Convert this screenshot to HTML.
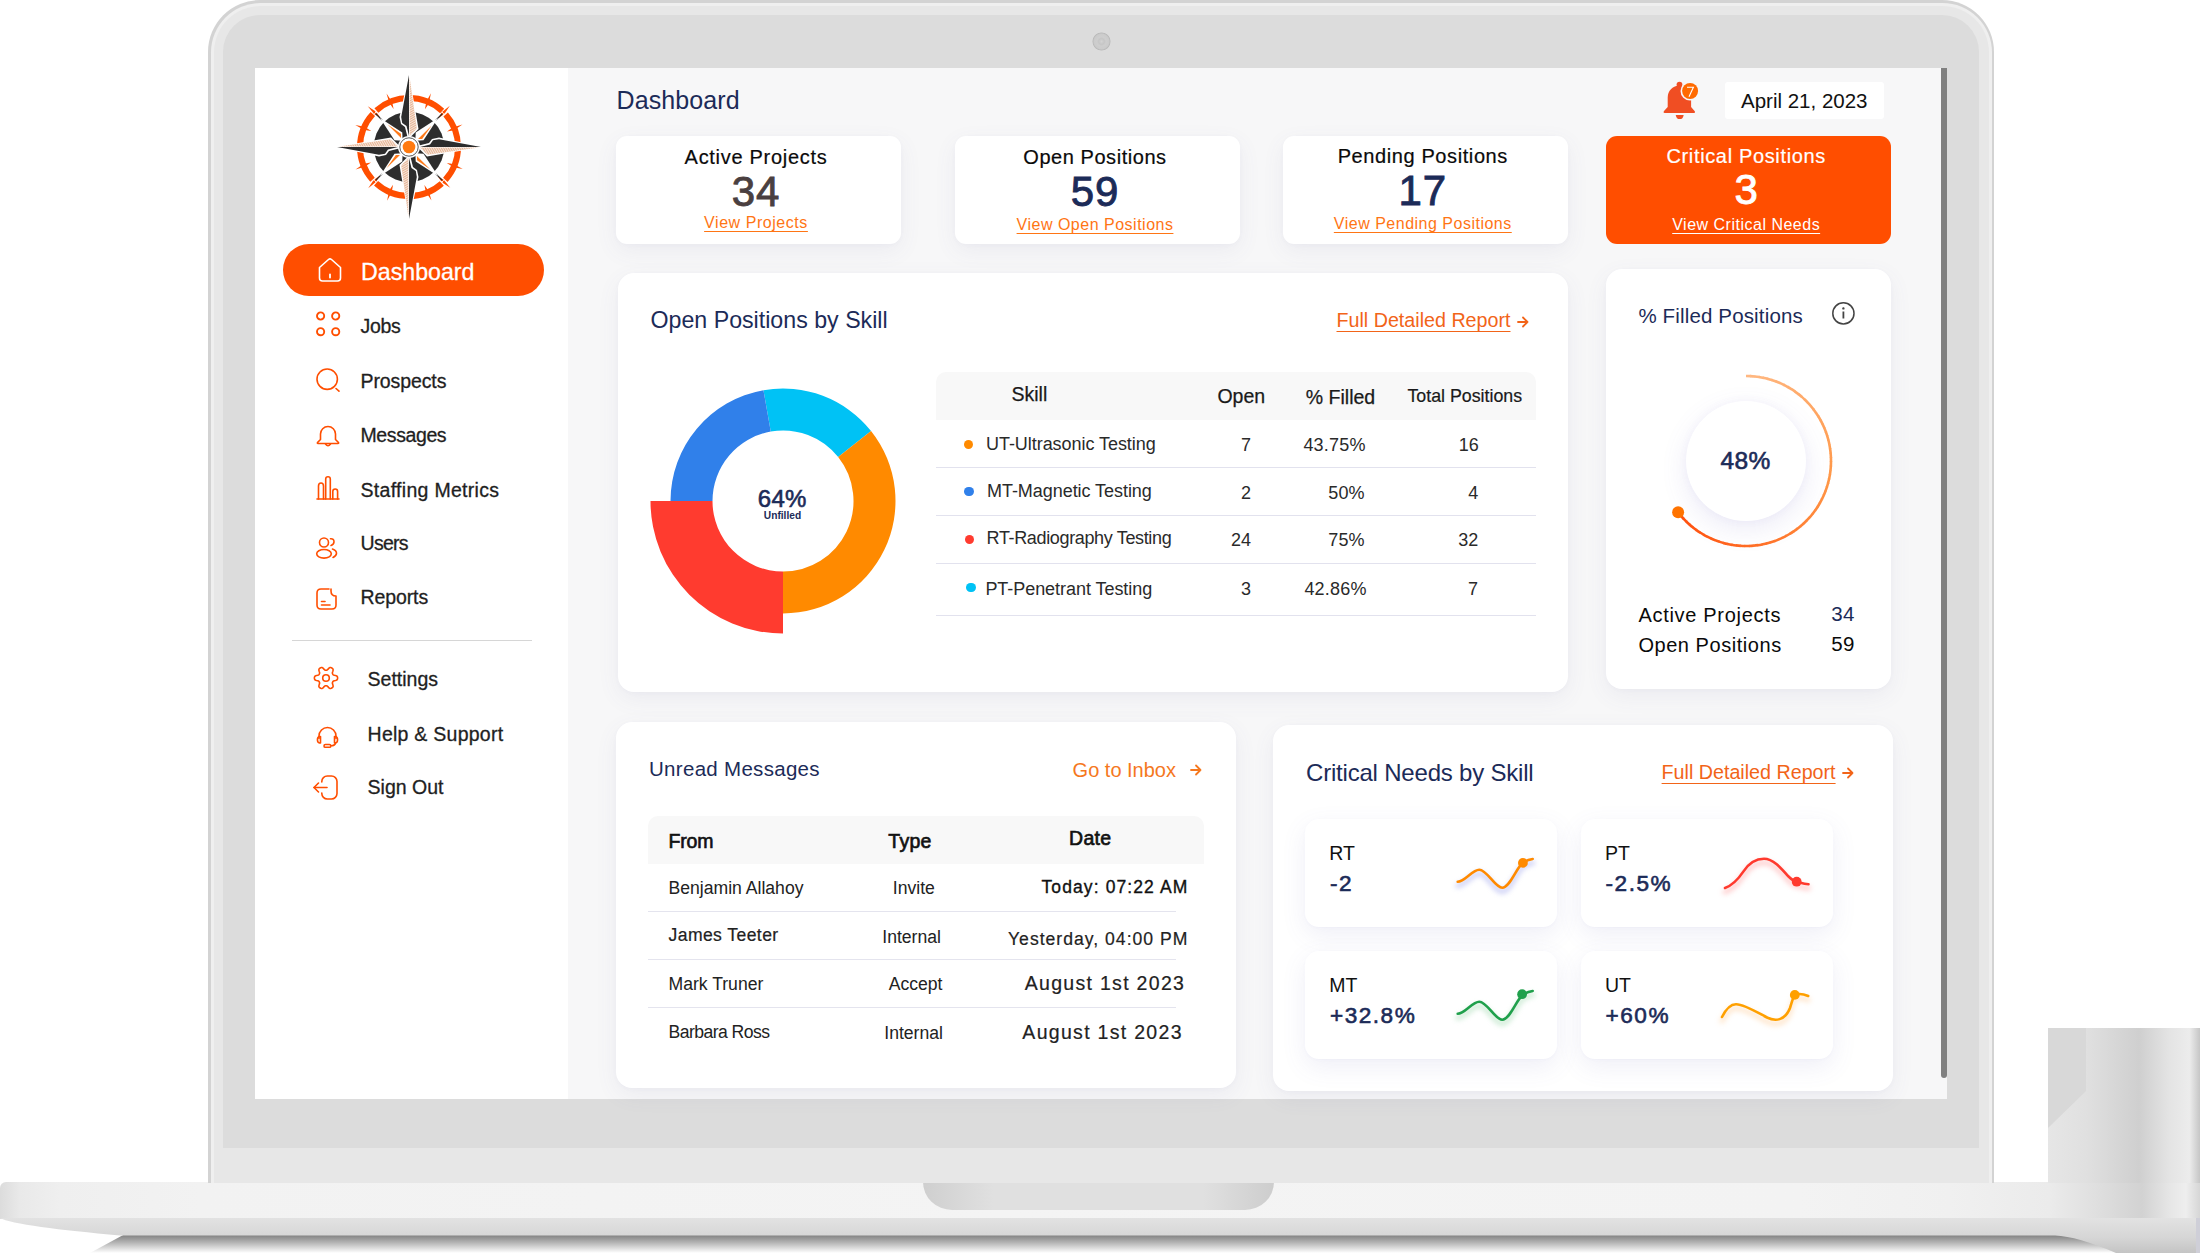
<!DOCTYPE html>
<html><head><meta charset="utf-8">
<style>
*{margin:0;padding:0;box-sizing:border-box}
html,body{width:2200px;height:1253px;overflow:hidden;background:#fff;font-family:"Liberation Sans",sans-serif}
.a{position:absolute}
.t{position:absolute;line-height:1;white-space:nowrap}
.u{text-decoration:underline;text-underline-offset:3px;text-decoration-thickness:1.5px}
svg{position:absolute;overflow:visible}
</style></head><body>

<div class="a" style="left:0px;top:1182px;width:2200px;height:37px;background:linear-gradient(90deg,#dcdcdc 0,#e9e9e9 20px,#efefef 60px,#f2f2f2 200px,#f4f4f4 1000px,#f3f3f3 1800px,#f0f0f0 1950px,#ebebeb 2050px,#dedede 2100px,#d2d2d2 2142px,#e6e6e6 2170px,#eeeeee 2186px,#d6d6d6 2200px);border-radius:6px 0 0 0"></div>
<svg style="left:0;top:1218px" width="2200" height="35" viewBox="0 0 2200 35"><defs><linearGradient id="lb" x1="0" y1="0" x2="0" y2="1"><stop offset="0" stop-color="#e2e2e2"/><stop offset="0.55" stop-color="#d6d6d6"/><stop offset="1" stop-color="#c4c4c4"/></linearGradient><linearGradient id="sh" x1="0" y1="0" x2="0" y2="1"><stop offset="0" stop-color="#7a7a7a"/><stop offset="0.45" stop-color="#b4b4b4"/><stop offset="1" stop-color="#ffffff"/></linearGradient></defs><path d="M125,16 L2075,16 L2135,35 L90,35 Z" fill="url(#sh)"/><path d="M0,0 L2196,0 L2196,35 L2116,35 C2090,24 2070,18 2055,17.5 L120,17.5 C60,12 10,6 0,0 Z" fill="url(#lb)"/><rect x="2196" y="0" width="4" height="35" fill="#cfcfd8"/></svg>
<svg style="left:923px;top:1182px" width="351" height="28" viewBox="0 0 351 28"><defs><linearGradient id="nt" x1="0" y1="0" x2="1" y2="0"><stop offset="0" stop-color="#cfcfcf"/><stop offset="0.2" stop-color="#e0e0e0"/><stop offset="0.8" stop-color="#e0e0e0"/><stop offset="1" stop-color="#cdcdcd"/></linearGradient></defs><path d="M0,0 L351,0 A29,28 0 0 1 322,28 L29,28 A29,28 0 0 1 0,0 Z" fill="url(#nt)"/></svg>
<svg style="left:2048px;top:1028px" width="152" height="155" viewBox="0 0 152 155"><defs><linearGradient id="rb" x1="0" y1="0" x2="1" y2="0"><stop offset="0" stop-color="#e6e6e6"/><stop offset="0.25" stop-color="#e0e0e0"/><stop offset="0.6" stop-color="#cfcfcf"/><stop offset="0.8" stop-color="#e4e4e4"/><stop offset="0.93" stop-color="#ececec"/><stop offset="1" stop-color="#c6c6c6"/></linearGradient></defs><rect x="0" y="0" width="152" height="155" fill="url(#rb)"/><path d="M0,0 L38,0 L38,63 L0,100 Z" fill="#d8d8d8"/></svg>
<div class="a" style="left:208px;top:0px;width:1786px;height:1183px;border-radius:52px 52px 0 0;background:#d3d3d3"></div>
<div class="a" style="left:210.5px;top:2.5px;width:1781px;height:1180.5px;border-radius:49.5px 49.5px 0 0;background:#efefef"></div>
<div class="a" style="left:213.5px;top:5.5px;width:1775px;height:1177.5px;border-radius:46.5px 46.5px 0 0;background:#e7e7e7"></div>
<div class="a" style="left:223px;top:15px;width:1756px;height:1133px;border-radius:37px 37px 0 0;background:#dcdcdc"></div>
<div class="a" style="left:1091.5px;top:31.5px;width:19px;height:19px;border-radius:50%;background:radial-gradient(circle closest-side,#d3d3d3 0,#c6c6c6 30%,#cecece 48%,#cbcbcb 78%,#bbbbbb 90%,#dcdcdc 100%)"></div>
<div class="a" style="left:255px;top:68px;width:1692px;height:1031px;background:#f7f7f8"></div>
<div class="a" style="left:255px;top:68px;width:313px;height:1031px;background:#fff"></div>
<svg style="left:329.4px;top:67.3px" width="160" height="160" viewBox="-80 -80 160 160"><defs><pattern id="hat" width="2" height="2" patternUnits="userSpaceOnUse" patternTransform="rotate(60)"><rect width="2" height="2" fill="#f7e6da"/><rect width="0.9" height="2" fill="#e3ad8c"/></pattern></defs><circle r="49" fill="none" stroke="#ff4e00" stroke-width="6" stroke-dasharray="71.97 5" stroke-dashoffset="35.98"/><path d="M-1.5,-47 L-0.3,-58 L1.5,-49 Z M-1.5,-49 L0.3,-41 L1.5,-47 Z" fill="#ff4e00" transform="rotate(22.5)"/><path d="M-1.5,-47 L-0.3,-58 L1.5,-49 Z M-1.5,-49 L0.3,-41 L1.5,-47 Z" fill="#ff4e00" transform="rotate(45.0)"/><path d="M-1.5,-47 L-0.3,-58 L1.5,-49 Z M-1.5,-49 L0.3,-41 L1.5,-47 Z" fill="#ff4e00" transform="rotate(67.5)"/><path d="M-1.5,-47 L-0.3,-58 L1.5,-49 Z M-1.5,-49 L0.3,-41 L1.5,-47 Z" fill="#ff4e00" transform="rotate(112.5)"/><path d="M-1.5,-47 L-0.3,-58 L1.5,-49 Z M-1.5,-49 L0.3,-41 L1.5,-47 Z" fill="#ff4e00" transform="rotate(135.0)"/><path d="M-1.5,-47 L-0.3,-58 L1.5,-49 Z M-1.5,-49 L0.3,-41 L1.5,-47 Z" fill="#ff4e00" transform="rotate(157.5)"/><path d="M-1.5,-47 L-0.3,-58 L1.5,-49 Z M-1.5,-49 L0.3,-41 L1.5,-47 Z" fill="#ff4e00" transform="rotate(202.5)"/><path d="M-1.5,-47 L-0.3,-58 L1.5,-49 Z M-1.5,-49 L0.3,-41 L1.5,-47 Z" fill="#ff4e00" transform="rotate(225.0)"/><path d="M-1.5,-47 L-0.3,-58 L1.5,-49 Z M-1.5,-49 L0.3,-41 L1.5,-47 Z" fill="#ff4e00" transform="rotate(247.5)"/><path d="M-1.5,-47 L-0.3,-58 L1.5,-49 Z M-1.5,-49 L0.3,-41 L1.5,-47 Z" fill="#ff4e00" transform="rotate(292.5)"/><path d="M-1.5,-47 L-0.3,-58 L1.5,-49 Z M-1.5,-49 L0.3,-41 L1.5,-47 Z" fill="#ff4e00" transform="rotate(315.0)"/><path d="M-1.5,-47 L-0.3,-58 L1.5,-49 Z M-1.5,-49 L0.3,-41 L1.5,-47 Z" fill="#ff4e00" transform="rotate(337.5)"/><circle r="35.2" fill="#2d2d2d"/><g transform="rotate(45)"><path d="M0,-47 L0,-38" stroke="#2d2d2d" stroke-width="1.2"/><path d="M0,-41 L-5.5,-15 L0,-9 L5.5,-15 Z" fill="#fff"/><path d="M0.8,-31 L3.6,-15 L0.8,-12 Z" fill="#ff7a1a"/></g><g transform="rotate(135)"><path d="M0,-47 L0,-38" stroke="#2d2d2d" stroke-width="1.2"/><path d="M0,-41 L-5.5,-15 L0,-9 L5.5,-15 Z" fill="#fff"/><path d="M0.8,-31 L3.6,-15 L0.8,-12 Z" fill="#ff7a1a"/></g><g transform="rotate(225)"><path d="M0,-47 L0,-38" stroke="#2d2d2d" stroke-width="1.2"/><path d="M0,-41 L-5.5,-15 L0,-9 L5.5,-15 Z" fill="#fff"/><path d="M0.8,-31 L3.6,-15 L0.8,-12 Z" fill="#ff7a1a"/></g><g transform="rotate(315)"><path d="M0,-47 L0,-38" stroke="#2d2d2d" stroke-width="1.2"/><path d="M0,-41 L-5.5,-15 L0,-9 L5.5,-15 Z" fill="#fff"/><path d="M0.8,-31 L3.6,-15 L0.8,-12 Z" fill="#ff7a1a"/></g><g transform="rotate(0)"><path d="M0,-74 L-9.5,-30 L-8,-23 L-4,-20 L-1.5,-10 L1.5,-10 L9.5,-18 Z" fill="#fff"/><path d="M0,-72 L-7.8,-30 L-6.8,-24 L-2.5,-21 L0,-11 Z" fill="#2d2d2d"/><path d="M0.6,-70 L7.8,-18.5 L0.6,-11 Z" fill="url(#hat)"/></g><g transform="rotate(90)"><path d="M0,-74 L-9.5,-30 L-8,-23 L-4,-20 L-1.5,-10 L1.5,-10 L9.5,-18 Z" fill="#fff"/><path d="M0,-72 L-7.8,-30 L-6.8,-24 L-2.5,-21 L0,-11 Z" fill="#2d2d2d"/><path d="M0.6,-70 L7.8,-18.5 L0.6,-11 Z" fill="url(#hat)"/></g><g transform="rotate(180)"><path d="M0,-74 L-9.5,-30 L-8,-23 L-4,-20 L-1.5,-10 L1.5,-10 L9.5,-18 Z" fill="#fff"/><path d="M0,-72 L-7.8,-30 L-6.8,-24 L-2.5,-21 L0,-11 Z" fill="#2d2d2d"/><path d="M0.6,-70 L7.8,-18.5 L0.6,-11 Z" fill="url(#hat)"/></g><g transform="rotate(270)"><path d="M0,-74 L-9.5,-30 L-8,-23 L-4,-20 L-1.5,-10 L1.5,-10 L9.5,-18 Z" fill="#fff"/><path d="M0,-72 L-7.8,-30 L-6.8,-24 L-2.5,-21 L0,-11 Z" fill="#2d2d2d"/><path d="M0.6,-70 L7.8,-18.5 L0.6,-11 Z" fill="url(#hat)"/></g><circle r="11" fill="#fff"/><circle r="9.2" fill="none" stroke="#2d2d2d" stroke-width="0.8"/><circle r="6.3" fill="#ff7a10"/></svg>
<div class="a" style="left:283px;top:244px;width:261px;height:52px;border-radius:26px;background:#ff4e00"></div>
<svg style="left:318px;top:258px" width="24" height="24" viewBox="0 0 24 24" fill="none" stroke="#fff" stroke-width="1.6" stroke-linejoin="round" stroke-linecap="round"><path d="M1.5,9.5 L10.5,1.5 Q12,0.3 13.5,1.5 L22.5,9.5 V20 Q22.5,23 19.5,23 H4.5 Q1.5,23 1.5,20 Z"/><path d="M12,16.5 V19.5" stroke-width="1.8"/></svg>
<div class="t" style="left:361.0px;top:260.6px;font-size:23.2px;color:#fff;font-weight:400;-webkit-text-stroke:0.3px #fff;">Dashboard</div>
<div class="t" style="left:360.5px;top:317.1px;font-size:19.5px;color:#1f1f1f;font-weight:400;letter-spacing:-0.3px;-webkit-text-stroke:0.3px #1f1f1f;">Jobs</div>
<div class="t" style="left:360.5px;top:371.9px;font-size:19.5px;color:#1f1f1f;font-weight:400;letter-spacing:-0.1px;-webkit-text-stroke:0.3px #1f1f1f;">Prospects</div>
<div class="t" style="left:360.5px;top:426.2px;font-size:19.5px;color:#1f1f1f;font-weight:400;letter-spacing:-0.4px;-webkit-text-stroke:0.3px #1f1f1f;">Messages</div>
<div class="t" style="left:360.5px;top:480.7px;font-size:19.5px;color:#1f1f1f;font-weight:400;letter-spacing:0.3px;-webkit-text-stroke:0.3px #1f1f1f;">Staffing Metrics</div>
<div class="t" style="left:360.5px;top:533.9px;font-size:19.5px;color:#1f1f1f;font-weight:400;letter-spacing:-0.7px;-webkit-text-stroke:0.3px #1f1f1f;">Users</div>
<div class="t" style="left:360.5px;top:587.8px;font-size:19.5px;color:#1f1f1f;font-weight:400;letter-spacing:-0.1px;-webkit-text-stroke:0.3px #1f1f1f;">Reports</div>
<svg style="left:316px;top:312px" width="24" height="24" viewBox="0 0 24 24" fill="none" stroke="#ff4e00" stroke-width="1.6" stroke-linecap="round" stroke-linejoin="round"><circle cx="4.6" cy="4" r="3.6" stroke-width="1.9"/><circle cx="19.7" cy="4" r="3.6" stroke-width="1.9"/><circle cx="4.6" cy="19.7" r="3.6" stroke-width="1.9"/><circle cx="19.7" cy="19.7" r="3.6" stroke-width="1.9"/></svg>
<svg style="left:316px;top:368px" width="24" height="24" viewBox="0 0 24 24" fill="none" stroke="#ff4e00" stroke-width="1.6" stroke-linecap="round" stroke-linejoin="round"><circle cx="11.2" cy="11.2" r="10.2"/><path d="M20,20.5 L23,23.2"/></svg>
<svg style="left:316px;top:423px" width="24" height="24" viewBox="0 0 24 24" fill="none" stroke="#ff4e00" stroke-width="1.6" stroke-linecap="round" stroke-linejoin="round"><path d="M4.5,16.5 V11 A7.5,7.5 0 0 1 19.5,11 V16.5 L22.5,19.5 Q23,20.5 22,20.5 H2 Q1,20.5 1.5,19.5 Z"/><path d="M9.5,21 Q12,24.5 14.5,21"/></svg>
<svg style="left:316px;top:476px" width="24" height="24" viewBox="0 0 24 24" fill="none" stroke="#ff4e00" stroke-width="1.6" stroke-linecap="round" stroke-linejoin="round"><path d="M1,23 H23"/><path d="M2.5,23 V10 Q2.5,7 5,7 Q7.5,7 7.5,10 V23"/><path d="M9.7,23 V3 Q9.7,0.8 12,0.8 Q14.3,0.8 14.3,3 V23"/><path d="M16.8,23 V15.5 Q16.8,13 19.2,13 Q21.6,13 21.6,15.5 V23"/></svg>
<svg style="left:316px;top:537px" width="24" height="24" viewBox="0 0 24 24" fill="none" stroke="#ff4e00" stroke-width="1.6" stroke-linecap="round" stroke-linejoin="round"><circle cx="8" cy="5.5" r="4.5"/><ellipse cx="8" cy="16.8" rx="7.3" ry="4.3"/><path d="M14.5,1.8 Q18,1.5 18,4.8 Q18,7.5 15,8.5"/><path d="M16.5,12 Q20.5,13.5 20.5,16.3 Q20.5,18.8 17,20.5"/></svg>
<svg style="left:316px;top:588px" width="24" height="24" viewBox="0 0 24 24" fill="none" stroke="#ff4e00" stroke-width="1.6" stroke-linecap="round" stroke-linejoin="round"><path d="M13,1 H5 Q1,1 1,5 V17 Q1,21 5,21 H16 Q20,21 20,17 V8 Q15,8 15,3 V1"/><path d="M5.5,13.5 H9"/><path d="M5.5,17 H14"/></svg>
<div class="a" style="left:292px;top:640px;width:240px;height:1.2px;background:#d6d6d6"></div>
<div class="t" style="left:367.6px;top:669.9px;font-size:19.5px;color:#1f1f1f;font-weight:400;-webkit-text-stroke:0.3px #1f1f1f;">Settings</div>
<div class="t" style="left:367.6px;top:725.2px;font-size:19.5px;color:#1f1f1f;font-weight:400;letter-spacing:0.25px;-webkit-text-stroke:0.3px #1f1f1f;">Help &amp; Support</div>
<div class="t" style="left:367.6px;top:778.0px;font-size:19.5px;color:#1f1f1f;font-weight:400;-webkit-text-stroke:0.3px #1f1f1f;">Sign Out</div>
<svg style="left:314px;top:666px" width="24" height="24" viewBox="0 0 24 24" fill="none" stroke="#ff4e00" stroke-width="1.6" stroke-linecap="round" stroke-linejoin="round"><path d="M12.00,4.20 L12.41,4.18 L12.83,4.12 L13.28,3.92 L13.82,3.43 L14.51,2.63 L15.29,1.88 L16.02,1.53 L16.67,1.52 L17.25,1.69 L17.80,1.95 L18.30,2.29 L18.74,2.72 L19.06,3.28 L19.12,4.09 L18.86,5.14 L18.51,6.14 L18.36,6.85 L18.41,7.34 L18.56,7.74 L18.75,8.10 L18.97,8.45 L19.24,8.78 L19.64,9.07 L20.33,9.29 L21.37,9.49 L22.41,9.79 L23.08,10.25 L23.41,10.80 L23.56,11.39 L23.60,12.00 L23.56,12.61 L23.41,13.20 L23.08,13.75 L22.41,14.21 L21.37,14.51 L20.33,14.71 L19.64,14.93 L19.24,15.22 L18.97,15.55 L18.75,15.90 L18.56,16.26 L18.41,16.66 L18.36,17.15 L18.51,17.86 L18.86,18.86 L19.12,19.91 L19.06,20.72 L18.74,21.28 L18.30,21.71 L17.80,22.05 L17.25,22.31 L16.67,22.48 L16.02,22.47 L15.29,22.12 L14.51,21.37 L13.82,20.57 L13.28,20.08 L12.83,19.88 L12.41,19.82 L12.00,19.80 L11.59,19.82 L11.17,19.88 L10.72,20.08 L10.18,20.57 L9.49,21.37 L8.71,22.12 L7.98,22.47 L7.33,22.48 L6.75,22.31 L6.20,22.05 L5.70,21.71 L5.26,21.28 L4.94,20.72 L4.88,19.91 L5.14,18.86 L5.49,17.86 L5.64,17.15 L5.59,16.66 L5.44,16.26 L5.25,15.90 L5.03,15.55 L4.76,15.22 L4.36,14.93 L3.67,14.71 L2.63,14.51 L1.59,14.21 L0.92,13.75 L0.59,13.20 L0.44,12.61 L0.40,12.00 L0.44,11.39 L0.59,10.80 L0.92,10.25 L1.59,9.79 L2.63,9.49 L3.67,9.29 L4.36,9.07 L4.76,8.78 L5.03,8.45 L5.25,8.10 L5.44,7.74 L5.59,7.34 L5.64,6.85 L5.49,6.14 L5.14,5.14 L4.88,4.09 L4.94,3.28 L5.26,2.72 L5.70,2.29 L6.20,1.95 L6.75,1.69 L7.33,1.52 L7.98,1.53 L8.71,1.88 L9.49,2.63 L10.18,3.43 L10.72,3.92 L11.17,4.12 L11.59,4.18 Z"/><circle cx="12" cy="12" r="3.3"/></svg>
<svg style="left:316px;top:726px" width="24" height="24" viewBox="0 0 24 24" fill="none" stroke="#ff4e00" stroke-width="1.6" stroke-linecap="round" stroke-linejoin="round"><path d="M3,12.5 V10 A8.5,8.5 0 0 1 20,10 V12.5"/><path d="M4.5,10.5 H3.5 A2.5,3.3 0 0 0 3.5,17 H4.5 Z"/><path d="M18.5,10.5 H19.5 A2.5,3.3 0 0 1 19.5,17 H18.5 Z"/><path d="M19.5,17 Q19,19.8 15,19.8"/><rect x="8" y="18.5" width="6.8" height="2.8" rx="1.4"/></svg>
<svg style="left:313px;top:775px" width="26" height="26" viewBox="0 0 26 26" fill="none" stroke="#ff4e00" stroke-width="1.6" stroke-linecap="round" stroke-linejoin="round"><path d="M8.8,7 V6.5 A5.5,5.5 0 0 1 14.3,1 H18.5 A5.5,5.5 0 0 1 24,6.5 V18.5 A5.5,5.5 0 0 1 18.5,24 H14.3 A5.5,5.5 0 0 1 8.8,18.5 V18"/><path d="M1,12.5 H14"/><path d="M5.5,8 L1,12.5 L5.5,17"/></svg>
<div class="t" style="left:616.5px;top:87.8px;font-size:25px;color:#1c2b58;font-weight:400;letter-spacing:0.1px;">Dashboard</div>
<svg style="left:1660px;top:78px" width="40" height="44" viewBox="0 0 40 44"><circle cx="19.5" cy="6.6" r="2.9" fill="#f04e23"/><path d="M7.7,28.9 V19.5 A11.7,12 0 0 1 31.1,19.5 V28.9 L34.8,33.2 Q35.8,34.9 34,34.9 H4.5 Q3,34.9 3.8,33.2 Z" fill="#f04e23"/><path d="M15.7,36.9 H23.7 Q23,41.1 19.7,41.1 Q16.4,41.1 15.7,36.9 Z" fill="#f04e23"/><circle cx="30.1" cy="13" r="9.6" fill="#f7f7f8"/><circle cx="30.1" cy="13" r="8" fill="#ff6a00"/><path d="M27,9.3 H33.4 L29,18.8" fill="none" stroke="#fff" stroke-width="1.1"/></svg>
<div class="a" style="left:1725px;top:81.5px;width:159px;height:37px;background:#fff;border-radius:3px"></div>
<div class="t" style="left:1741.0px;top:91.0px;font-size:20.5px;color:#111;font-weight:400;">April 21, 2023</div>
<div class="a" style="left:616px;top:136px;width:285px;height:107.5px;background:#fff;border-radius:11px;box-shadow:0 7px 22px rgba(90,90,150,0.075),0 1px 4px rgba(90,90,150,0.03)"></div>
<div class="t" style="left:356.0px;width:800px;text-align:center;top:147.0px;font-size:20px;color:#0a0a0a;font-weight:400;letter-spacing:0.7px;-webkit-text-stroke:0.2px #0a0a0a;">Active Projects</div>
<div class="t" style="left:356.0px;width:800px;text-align:center;top:170.5px;font-size:42px;color:#4a3f40;font-weight:400;letter-spacing:1px;-webkit-text-stroke:0.9px #4a3f40;">34</div>
<div class="t" style="left:356.0px;width:800px;text-align:center;top:215.1px;font-size:16px;color:#ff7514;font-weight:400;letter-spacing:0.55px;text-decoration:underline;text-underline-offset:3px;text-decoration-thickness:1.3px;">View Projects</div>
<div class="a" style="left:955px;top:136px;width:285px;height:107.5px;background:#fff;border-radius:11px;box-shadow:0 7px 22px rgba(90,90,150,0.075),0 1px 4px rgba(90,90,150,0.03)"></div>
<div class="t" style="left:695.0px;width:800px;text-align:center;top:147.4px;font-size:20px;color:#0a0a0a;font-weight:400;letter-spacing:0.55px;-webkit-text-stroke:0.2px #0a0a0a;">Open Positions</div>
<div class="t" style="left:695.0px;width:800px;text-align:center;top:170.5px;font-size:42px;color:#1c2b58;font-weight:400;letter-spacing:1px;-webkit-text-stroke:0.9px #1c2b58;">59</div>
<div class="t" style="left:695.0px;width:800px;text-align:center;top:217.2px;font-size:16px;color:#ff7514;font-weight:400;letter-spacing:0.5px;text-decoration:underline;text-underline-offset:3px;text-decoration-thickness:1.3px;">View Open Positions</div>
<div class="a" style="left:1283px;top:136px;width:284.5px;height:107.5px;background:#fff;border-radius:11px;box-shadow:0 7px 22px rgba(90,90,150,0.075),0 1px 4px rgba(90,90,150,0.03)"></div>
<div class="t" style="left:1022.8px;width:800px;text-align:center;top:146.3px;font-size:20px;color:#0a0a0a;font-weight:400;letter-spacing:0.6px;-webkit-text-stroke:0.2px #0a0a0a;">Pending Positions</div>
<div class="t" style="left:1022.8px;width:800px;text-align:center;top:169.6px;font-size:42px;color:#1c2b58;font-weight:400;letter-spacing:1px;-webkit-text-stroke:0.9px #1c2b58;">17</div>
<div class="t" style="left:1022.8px;width:800px;text-align:center;top:216.2px;font-size:16px;color:#ff7514;font-weight:400;letter-spacing:0.5px;text-decoration:underline;text-underline-offset:3px;text-decoration-thickness:1.3px;">View Pending Positions</div>
<div class="a" style="left:1606px;top:136px;width:285px;height:107.5px;background:#ff4e00;border-radius:11px"></div>
<div class="t" style="left:1346.2px;width:800px;text-align:center;top:145.5px;font-size:20px;color:#fff;font-weight:400;letter-spacing:0.65px;-webkit-text-stroke:0.2px #fff;">Critical Positions</div>
<div class="t" style="left:1346.2px;width:800px;text-align:center;top:169.2px;font-size:42px;color:#fff;font-weight:400;-webkit-text-stroke:0.9px #fff;">3</div>
<div class="t" style="left:1346.2px;width:800px;text-align:center;top:216.7px;font-size:16px;color:#fff;font-weight:400;letter-spacing:0.5px;text-decoration:underline;text-underline-offset:3px;text-decoration-thickness:1.3px;">View Critical Needs</div>
<div class="a" style="left:618px;top:273px;width:950px;height:419px;background:#fff;border-radius:16px;box-shadow:0 7px 22px rgba(90,90,150,0.075),0 1px 4px rgba(90,90,150,0.03)"></div>
<div class="t" style="left:650.5px;top:308.8px;font-size:23.2px;color:#1c2b58;font-weight:400;">Open Positions by Skill</div>
<div class="t" style="left:1336.5px;top:311.1px;font-size:19.7px;color:#f26418;font-weight:400;text-decoration:underline;text-underline-offset:4px;text-decoration-thickness:1.4px;">Full Detailed Report</div>
<svg style="left:1517px;top:315.6px" width="12" height="12" viewBox="0 0 12 12" fill="none" stroke="#f26418" stroke-width="1.8" stroke-linecap="round" stroke-linejoin="round"><path d="M1,6 H10.5 M6,1.5 L10.5,6 L6,10.5"/></svg>
<svg style="left:632.8px;top:350.5px" width="300" height="300" viewBox="-150 -150 300 300"><path d="M-19.54,-110.79 A112.5,112.5 0 0 1 88.04,-70.03 L55.17,-43.89 A70.5,70.5 0 0 0 -12.24,-69.43 Z" fill="#00c2f5"/><path d="M88.04,-70.03 A112.5,112.5 0 0 1 0.00,112.50 L0.00,70.50 A70.5,70.5 0 0 0 55.17,-43.89 Z" fill="#ff8a00"/><path d="M0.00,132.50 A132.5,132.5 0 0 1 -132.50,0.00 L-70.50,0.00 A70.5,70.5 0 0 0 0.00,70.50 Z" fill="#ff3b2f"/><path d="M-112.50,0.00 A112.5,112.5 0 0 1 -19.54,-110.79 L-12.24,-69.43 A70.5,70.5 0 0 0 -70.50,0.00 Z" fill="#3080ea"/></svg>
<div class="t" style="left:382.3px;width:800px;text-align:center;top:487.2px;font-size:24px;color:#1c2b58;font-weight:400;letter-spacing:0.3px;-webkit-text-stroke:0.6px #1c2b58;">64%</div>
<div class="t" style="left:382.5px;width:800px;text-align:center;top:511.2px;font-size:10.2px;color:#1c2b58;font-weight:700;">Unfilled</div>
<div class="a" style="left:936px;top:372px;width:600px;height:48px;background:#f8f8f8;border-radius:10px 10px 0 0"></div>
<div class="t" style="left:1011.5px;top:384.6px;font-size:19.5px;color:#1a1a1a;font-weight:400;-webkit-text-stroke:0.25px #1a1a1a;">Skill</div>
<div class="t" style="left:841.3px;width:800px;text-align:center;top:387.1px;font-size:19.5px;color:#1a1a1a;font-weight:400;-webkit-text-stroke:0.25px #1a1a1a;">Open</div>
<div class="t" style="left:940.5px;width:800px;text-align:center;top:388.0px;font-size:19.5px;color:#1a1a1a;font-weight:400;-webkit-text-stroke:0.25px #1a1a1a;">% Filled</div>
<div class="t" style="left:1064.8px;width:800px;text-align:center;top:387.5px;font-size:17.8px;color:#1a1a1a;font-weight:400;-webkit-text-stroke:0.2px #1a1a1a;">Total Positions</div>
<div class="a" style="left:936px;top:467px;width:600px;height:1px;background:#e2e2ee"></div>
<div class="a" style="left:936px;top:515px;width:600px;height:1px;background:#e2e2ee"></div>
<div class="a" style="left:936px;top:563px;width:600px;height:1px;background:#e2e2ee"></div>
<div class="a" style="left:936px;top:615px;width:600px;height:1px;background:#e2e2ee"></div>
<div class="a" style="left:963.9px;top:439.8px;width:9.4px;height:9.4px;border-radius:50%;background:#ff8a00"></div>
<div class="t" style="left:986.0px;top:435.0px;font-size:18px;color:#2a2a2a;font-weight:400;letter-spacing:-0.05px;">UT-Ultrasonic Testing</div>
<div class="t" style="left:451.0px;width:800px;text-align:right;top:435.8px;font-size:18px;color:#2a2a2a;font-weight:400;">7</div>
<div class="t" style="left:934.5px;width:800px;text-align:center;top:435.8px;font-size:18px;color:#2a2a2a;font-weight:400;letter-spacing:0.2px;">43.75%</div>
<div class="t" style="left:1068.7px;width:800px;text-align:center;top:435.8px;font-size:18px;color:#2a2a2a;font-weight:400;">16</div>
<div class="a" style="left:964.4px;top:487.1px;width:9.4px;height:9.4px;border-radius:50%;background:#3080ea"></div>
<div class="t" style="left:987.0px;top:482.3px;font-size:18px;color:#2a2a2a;font-weight:400;letter-spacing:-0.05px;">MT-Magnetic Testing</div>
<div class="t" style="left:451.0px;width:800px;text-align:right;top:483.8px;font-size:18px;color:#2a2a2a;font-weight:400;">2</div>
<div class="t" style="left:946.5px;width:800px;text-align:center;top:483.8px;font-size:18px;color:#2a2a2a;font-weight:400;letter-spacing:0.2px;">50%</div>
<div class="t" style="left:1073.3px;width:800px;text-align:center;top:483.8px;font-size:18px;color:#2a2a2a;font-weight:400;">4</div>
<div class="a" style="left:964.8px;top:535.1px;width:9.4px;height:9.4px;border-radius:50%;background:#ff3b2f"></div>
<div class="t" style="left:986.6px;top:528.8px;font-size:18px;color:#2a2a2a;font-weight:400;letter-spacing:-0.35px;">RT-Radiography Testing</div>
<div class="t" style="left:451.0px;width:800px;text-align:right;top:530.6px;font-size:18px;color:#2a2a2a;font-weight:400;">24</div>
<div class="t" style="left:946.5px;width:800px;text-align:center;top:530.6px;font-size:18px;color:#2a2a2a;font-weight:400;letter-spacing:0.2px;">75%</div>
<div class="t" style="left:1068.3px;width:800px;text-align:center;top:530.6px;font-size:18px;color:#2a2a2a;font-weight:400;">32</div>
<div class="a" style="left:966.3px;top:583.1px;width:9.4px;height:9.4px;border-radius:50%;background:#00c2f5"></div>
<div class="t" style="left:985.4px;top:579.8px;font-size:18px;color:#2a2a2a;font-weight:400;letter-spacing:-0.05px;">PT-Penetrant Testing</div>
<div class="t" style="left:451.0px;width:800px;text-align:right;top:580.3px;font-size:18px;color:#2a2a2a;font-weight:400;">3</div>
<div class="t" style="left:935.5px;width:800px;text-align:center;top:580.3px;font-size:18px;color:#2a2a2a;font-weight:400;letter-spacing:0.2px;">42.86%</div>
<div class="t" style="left:1073.0px;width:800px;text-align:center;top:580.3px;font-size:18px;color:#2a2a2a;font-weight:400;">7</div>
<div class="a" style="left:1606px;top:269px;width:285px;height:420px;background:#fff;border-radius:16px;box-shadow:0 7px 22px rgba(90,90,150,0.075),0 1px 4px rgba(90,90,150,0.03)"></div>
<div class="t" style="left:1638.4px;top:305.8px;font-size:20.5px;color:#1c2b58;font-weight:400;letter-spacing:0.15px;">% Filled Positions</div>
<svg style="left:1831px;top:301px" width="25" height="25" viewBox="0 0 25 25" fill="none" stroke="#444" stroke-width="1.5"><circle cx="12.4" cy="12.4" r="10.6"/><path d="M12.4,10.5 V17.5" stroke-width="1.8"/><circle cx="12.4" cy="7.4" r="0.6" fill="#444" stroke-width="1.2"/></svg>
<div class="a" style="left:1686px;top:400.6px;width:120px;height:120px;border-radius:50%;background:#fff;box-shadow:0 8px 26px rgba(110,100,190,0.13),0 0 8px rgba(110,100,190,0.05)"></div>
<svg style="left:1646.4px;top:360.7px" width="200" height="200" viewBox="-100 -100 200 200" fill="none"><path d="M0.00,-85.00 A85,85 0 0 1 4.91,-84.86" stroke="rgb(255, 184, 130)" stroke-width="2.6"/><path d="M4.32,-84.89 A85,85 0 0 1 9.22,-84.50" stroke="rgb(255, 183, 128)" stroke-width="2.6"/><path d="M8.63,-84.56 A85,85 0 0 1 13.50,-83.92" stroke="rgb(255, 182, 126)" stroke-width="2.6"/><path d="M12.91,-84.01 A85,85 0 0 1 17.75,-83.13" stroke="rgb(255, 181, 124)" stroke-width="2.6"/><path d="M17.16,-83.25 A85,85 0 0 1 21.95,-82.12" stroke="rgb(255, 180, 123)" stroke-width="2.6"/><path d="M21.37,-82.27 A85,85 0 0 1 26.09,-80.90" stroke="rgb(255, 179, 121)" stroke-width="2.6"/><path d="M25.52,-81.08 A85,85 0 0 1 30.17,-79.47" stroke="rgb(255, 178, 119)" stroke-width="2.6"/><path d="M29.61,-79.68 A85,85 0 0 1 34.17,-77.83" stroke="rgb(255, 177, 118)" stroke-width="2.6"/><path d="M33.62,-78.07 A85,85 0 0 1 38.08,-75.99" stroke="rgb(255, 176, 116)" stroke-width="2.6"/><path d="M37.54,-76.26 A85,85 0 0 1 41.89,-73.96" stroke="rgb(255, 175, 114)" stroke-width="2.6"/><path d="M41.37,-74.25 A85,85 0 0 1 45.59,-71.74" stroke="rgb(255, 174, 113)" stroke-width="2.6"/><path d="M45.09,-72.05 A85,85 0 0 1 49.18,-69.33" stroke="rgb(255, 173, 111)" stroke-width="2.6"/><path d="M48.69,-69.67 A85,85 0 0 1 52.64,-66.74" stroke="rgb(255, 172, 109)" stroke-width="2.6"/><path d="M52.17,-67.11 A85,85 0 0 1 55.96,-63.98" stroke="rgb(255, 171, 108)" stroke-width="2.6"/><path d="M55.51,-64.37 A85,85 0 0 1 59.14,-61.05" stroke="rgb(255, 170, 106)" stroke-width="2.6"/><path d="M58.71,-61.47 A85,85 0 0 1 62.17,-57.97" stroke="rgb(255, 169, 104)" stroke-width="2.6"/><path d="M61.76,-58.40 A85,85 0 0 1 65.03,-54.74" stroke="rgb(255, 168, 102)" stroke-width="2.6"/><path d="M64.65,-55.19 A85,85 0 0 1 67.73,-51.36" stroke="rgb(255, 167, 101)" stroke-width="2.6"/><path d="M67.37,-51.83 A85,85 0 0 1 70.25,-47.85" stroke="rgb(255, 166, 99)" stroke-width="2.6"/><path d="M69.91,-48.34 A85,85 0 0 1 72.59,-44.22" stroke="rgb(255, 165, 97)" stroke-width="2.6"/><path d="M72.28,-44.73 A85,85 0 0 1 74.74,-40.48" stroke="rgb(255, 164, 96)" stroke-width="2.6"/><path d="M74.46,-41.00 A85,85 0 0 1 76.70,-36.63" stroke="rgb(255, 163, 94)" stroke-width="2.6"/><path d="M76.45,-37.16 A85,85 0 0 1 78.47,-32.68" stroke="rgb(255, 162, 92)" stroke-width="2.6"/><path d="M78.24,-33.23 A85,85 0 0 1 80.02,-28.65" stroke="rgb(255, 162, 91)" stroke-width="2.6"/><path d="M79.82,-29.21 A85,85 0 0 1 81.38,-24.55" stroke="rgb(255, 161, 89)" stroke-width="2.6"/><path d="M81.20,-25.12 A85,85 0 0 1 82.52,-20.38" stroke="rgb(255, 160, 87)" stroke-width="2.6"/><path d="M82.38,-20.96 A85,85 0 0 1 83.45,-16.16" stroke="rgb(255, 159, 86)" stroke-width="2.6"/><path d="M83.33,-16.75 A85,85 0 0 1 84.16,-11.90" stroke="rgb(255, 158, 84)" stroke-width="2.6"/><path d="M84.08,-12.49 A85,85 0 0 1 84.66,-7.61" stroke="rgb(255, 157, 82)" stroke-width="2.6"/><path d="M84.60,-8.20 A85,85 0 0 1 84.94,-3.30" stroke="rgb(255, 156, 81)" stroke-width="2.6"/><path d="M84.91,-3.89 A85,85 0 0 1 84.99,1.02" stroke="rgb(255, 155, 79)" stroke-width="2.6"/><path d="M85.00,0.43 A85,85 0 0 1 84.83,5.34" stroke="rgb(255, 154, 77)" stroke-width="2.6"/><path d="M84.87,4.74 A85,85 0 0 1 84.45,9.64" stroke="rgb(255, 153, 75)" stroke-width="2.6"/><path d="M84.52,9.05 A85,85 0 0 1 83.85,13.92" stroke="rgb(255, 152, 74)" stroke-width="2.6"/><path d="M83.95,13.33 A85,85 0 0 1 83.04,18.16" stroke="rgb(255, 151, 72)" stroke-width="2.6"/><path d="M83.16,17.58 A85,85 0 0 1 82.01,22.36" stroke="rgb(255, 150, 70)" stroke-width="2.6"/><path d="M82.16,21.78 A85,85 0 0 1 80.76,26.50" stroke="rgb(255, 149, 69)" stroke-width="2.6"/><path d="M80.95,25.93 A85,85 0 0 1 79.31,30.57" stroke="rgb(255, 147, 68)" stroke-width="2.6"/><path d="M79.53,30.01 A85,85 0 0 1 77.66,34.56" stroke="rgb(255, 145, 66)" stroke-width="2.6"/><path d="M77.90,34.01 A85,85 0 0 1 75.80,38.46" stroke="rgb(255, 144, 65)" stroke-width="2.6"/><path d="M76.07,37.93 A85,85 0 0 1 73.75,42.26" stroke="rgb(255, 142, 64)" stroke-width="2.6"/><path d="M74.04,41.74 A85,85 0 0 1 71.51,45.95" stroke="rgb(255, 140, 62)" stroke-width="2.6"/><path d="M71.83,45.45 A85,85 0 0 1 69.08,49.53" stroke="rgb(255, 139, 61)" stroke-width="2.6"/><path d="M69.43,49.04 A85,85 0 0 1 66.48,52.97" stroke="rgb(255, 137, 60)" stroke-width="2.6"/><path d="M66.84,52.51 A85,85 0 0 1 63.70,56.28" stroke="rgb(255, 135, 58)" stroke-width="2.6"/><path d="M64.09,55.83 A85,85 0 0 1 60.76,59.44" stroke="rgb(255, 134, 57)" stroke-width="2.6"/><path d="M61.17,59.02 A85,85 0 0 1 57.66,62.46" stroke="rgb(255, 132, 56)" stroke-width="2.6"/><path d="M58.09,62.05 A85,85 0 0 1 54.41,65.30" stroke="rgb(255, 131, 54)" stroke-width="2.6"/><path d="M54.86,64.92 A85,85 0 0 1 51.02,67.98" stroke="rgb(255, 129, 53)" stroke-width="2.6"/><path d="M51.49,67.63 A85,85 0 0 1 47.50,70.49" stroke="rgb(255, 127, 52)" stroke-width="2.6"/><path d="M47.99,70.16 A85,85 0 0 1 43.86,72.81" stroke="rgb(255, 126, 50)" stroke-width="2.6"/><path d="M44.36,72.50 A85,85 0 0 1 40.10,74.95" stroke="rgb(255, 124, 49)" stroke-width="2.6"/><path d="M40.62,74.66 A85,85 0 0 1 36.24,76.89" stroke="rgb(255, 122, 48)" stroke-width="2.6"/><path d="M36.78,76.63 A85,85 0 0 1 32.29,78.63" stroke="rgb(255, 121, 46)" stroke-width="2.6"/><path d="M32.84,78.40 A85,85 0 0 1 28.25,80.17" stroke="rgb(255, 119, 45)" stroke-width="2.6"/><path d="M28.81,79.97 A85,85 0 0 1 24.14,81.50" stroke="rgb(255, 117, 44)" stroke-width="2.6"/><path d="M24.71,81.33 A85,85 0 0 1 19.97,82.62" stroke="rgb(255, 116, 42)" stroke-width="2.6"/><path d="M20.55,82.48 A85,85 0 0 1 15.75,83.53" stroke="rgb(255, 114, 41)" stroke-width="2.6"/><path d="M16.33,83.42 A85,85 0 0 1 11.48,84.22" stroke="rgb(255, 112, 40)" stroke-width="2.6"/><path d="M12.07,84.14 A85,85 0 0 1 7.19,84.70" stroke="rgb(255, 111, 38)" stroke-width="2.6"/><path d="M7.78,84.64 A85,85 0 0 1 2.87,84.95" stroke="rgb(255, 109, 37)" stroke-width="2.6"/><path d="M3.47,84.93 A85,85 0 0 1 -1.45,84.99" stroke="rgb(255, 107, 36)" stroke-width="2.6"/><path d="M-0.85,85.00 A85,85 0 0 1 -5.76,84.80" stroke="rgb(255, 106, 34)" stroke-width="2.6"/><path d="M-5.17,84.84 A85,85 0 0 1 -10.06,84.40" stroke="rgb(255, 104, 33)" stroke-width="2.6"/><path d="M-9.47,84.47 A85,85 0 0 1 -14.34,83.78" stroke="rgb(255, 102, 32)" stroke-width="2.6"/><path d="M-13.75,83.88 A85,85 0 0 1 -18.58,82.94" stroke="rgb(255, 101, 30)" stroke-width="2.6"/><path d="M-18.00,83.07 A85,85 0 0 1 -22.77,81.89" stroke="rgb(255, 99, 29)" stroke-width="2.6"/><path d="M-22.20,82.05 A85,85 0 0 1 -26.90,80.63" stroke="rgb(255, 97, 28)" stroke-width="2.6"/><path d="M-26.34,80.82 A85,85 0 0 1 -30.96,79.16" stroke="rgb(255, 96, 26)" stroke-width="2.6"/><path d="M-30.41,79.37 A85,85 0 0 1 -34.94,77.48" stroke="rgb(255, 94, 25)" stroke-width="2.6"/><path d="M-34.40,77.73 A85,85 0 0 1 -38.84,75.61" stroke="rgb(255, 92, 24)" stroke-width="2.6"/><path d="M-38.31,75.88 A85,85 0 0 1 -42.63,73.54" stroke="rgb(255, 91, 22)" stroke-width="2.6"/><path d="M-42.11,73.83 A85,85 0 0 1 -46.31,71.28" stroke="rgb(255, 89, 21)" stroke-width="2.6"/><path d="M-45.81,71.60 A85,85 0 0 1 -49.87,68.83" stroke="rgb(255, 87, 20)" stroke-width="2.6"/><path d="M-49.39,69.18 A85,85 0 0 1 -53.30,66.21" stroke="rgb(255, 86, 18)" stroke-width="2.6"/><path d="M-52.84,66.58 A85,85 0 0 1 -56.60,63.41" stroke="rgb(255, 84, 17)" stroke-width="2.6"/><path d="M-56.16,63.81 A85,85 0 0 1 -59.75,60.46" stroke="rgb(255, 82, 16)" stroke-width="2.6"/><path d="M-59.33,60.87 A85,85 0 0 1 -62.74,57.34" stroke="rgb(255, 81, 14)" stroke-width="2.6"/><path d="M-62.34,57.78 A85,85 0 0 1 -65.58,54.08" stroke="rgb(255, 79, 13)" stroke-width="2.6"/><path d="M-65.20,54.54 A85,85 0 0 1 -67.88,51.15" stroke="rgb(255, 78, 12)" stroke-width="2.6"/><circle cx="-67.88" cy="51.15" r="6" fill="#ff7300"/></svg>
<div class="t" style="left:1345.6px;width:800px;text-align:center;top:449.4px;font-size:24.5px;color:#1c2b58;font-weight:400;letter-spacing:0.4px;-webkit-text-stroke:0.6px #1c2b58;">48%</div>
<div class="t" style="left:1638.4px;top:604.6px;font-size:20px;color:#0a0a0a;font-weight:400;letter-spacing:0.7px;">Active Projects</div>
<div class="t" style="left:1638.4px;top:634.5px;font-size:20px;color:#0a0a0a;font-weight:400;letter-spacing:0.55px;">Open Positions</div>
<div class="t" style="left:1055.0px;width:800px;text-align:right;top:604.1px;font-size:20.5px;color:#1c2b58;font-weight:400;letter-spacing:0.5px;">34</div>
<div class="t" style="left:1055.0px;width:800px;text-align:right;top:634.0px;font-size:20.5px;color:#0a0a0a;font-weight:400;letter-spacing:0.5px;">59</div>
<div class="a" style="left:616px;top:722px;width:620px;height:366px;background:#fff;border-radius:16px;box-shadow:0 7px 22px rgba(90,90,150,0.075),0 1px 4px rgba(90,90,150,0.03)"></div>
<div class="t" style="left:649.0px;top:758.9px;font-size:20.5px;color:#1c2b58;font-weight:400;letter-spacing:0.3px;">Unread Messages</div>
<div class="t" style="left:1072.6px;top:760.0px;font-size:20px;color:#f5781e;font-weight:400;">Go to Inbox</div>
<svg style="left:1190px;top:764.0px" width="12" height="12" viewBox="0 0 12 12" fill="none" stroke="#f5781e" stroke-width="1.8" stroke-linecap="round" stroke-linejoin="round"><path d="M1,6 H10.5 M6,1.5 L10.5,6 L6,10.5"/></svg>
<div class="a" style="left:648px;top:816px;width:556px;height:48px;background:#f8f8f8;border-radius:10px 10px 0 0"></div>
<div class="t" style="left:668.5px;top:832.0px;font-size:19.5px;color:#111;font-weight:400;letter-spacing:-0.2px;-webkit-text-stroke:0.65px #111;">From</div>
<div class="t" style="left:510.0px;width:800px;text-align:center;top:832.0px;font-size:19.5px;color:#111;font-weight:400;letter-spacing:0.3px;-webkit-text-stroke:0.65px #111;">Type</div>
<div class="t" style="left:690.3px;width:800px;text-align:center;top:828.9px;font-size:19.5px;color:#111;font-weight:400;letter-spacing:0.3px;-webkit-text-stroke:0.65px #111;">Date</div>
<div class="a" style="left:648px;top:911px;width:528px;height:1px;background:#e4e4ee"></div>
<div class="a" style="left:648px;top:959px;width:528px;height:1px;background:#e4e4ee"></div>
<div class="a" style="left:648px;top:1007px;width:528px;height:1px;background:#e4e4ee"></div>
<div class="t" style="left:668.5px;top:880.3px;font-size:17.6px;color:#222;font-weight:400;">Benjamin Allahoy</div>
<div class="t" style="left:513.8px;width:800px;text-align:center;top:880.3px;font-size:17.6px;color:#222;font-weight:400;">Invite</div>
<div class="t" style="left:388.4px;width:800px;text-align:right;top:878.9px;font-size:17.5px;color:#111;font-weight:400;letter-spacing:1.1px;-webkit-text-stroke:0.35px #111;">Today: 07:22 AM</div>
<div class="t" style="left:668.5px;top:927.0px;font-size:17.6px;color:#222;font-weight:400;letter-spacing:0.4px;-webkit-text-stroke:0.2px #222;">James Teeter</div>
<div class="t" style="left:511.6px;width:800px;text-align:center;top:928.6px;font-size:17.6px;color:#222;font-weight:400;">Internal</div>
<div class="t" style="left:388.4px;width:800px;text-align:right;top:931.1px;font-size:17.6px;color:#222;font-weight:400;letter-spacing:1.0px;-webkit-text-stroke:0.2px #222;">Yesterday, 04:00 PM</div>
<div class="t" style="left:668.5px;top:976.2px;font-size:17.6px;color:#222;font-weight:400;">Mark Truner</div>
<div class="t" style="left:515.6px;width:800px;text-align:center;top:976.1px;font-size:17.6px;color:#222;font-weight:400;">Accept</div>
<div class="t" style="left:385.2px;width:800px;text-align:right;top:973.7px;font-size:19.5px;color:#222;font-weight:400;letter-spacing:1.3px;-webkit-text-stroke:0.2px #222;">August 1st 2023</div>
<div class="t" style="left:668.5px;top:1024.1px;font-size:17.6px;color:#222;font-weight:400;letter-spacing:-0.55px;">Barbara Ross</div>
<div class="t" style="left:513.6px;width:800px;text-align:center;top:1025.1px;font-size:17.6px;color:#222;font-weight:400;">Internal</div>
<div class="t" style="left:382.8px;width:800px;text-align:right;top:1022.5px;font-size:19.5px;color:#222;font-weight:400;letter-spacing:1.3px;-webkit-text-stroke:0.2px #222;">August 1st 2023</div>
<div class="a" style="left:1273px;top:725px;width:620px;height:365.5px;background:#fff;border-radius:16px;box-shadow:0 7px 22px rgba(90,90,150,0.075),0 1px 4px rgba(90,90,150,0.03)"></div>
<div class="t" style="left:1306.0px;top:760.7px;font-size:24px;color:#1c2b58;font-weight:400;letter-spacing:-0.2px;">Critical Needs by Skill</div>
<div class="t" style="left:1661.6px;top:763.3px;font-size:19.7px;color:#f26418;font-weight:400;text-decoration:underline;text-underline-offset:4px;text-decoration-thickness:1.4px;">Full Detailed Report</div>
<svg style="left:1842px;top:767.2px" width="12" height="12" viewBox="0 0 12 12" fill="none" stroke="#f26418" stroke-width="1.8" stroke-linecap="round" stroke-linejoin="round"><path d="M1,6 H10.5 M6,1.5 L10.5,6 L6,10.5"/></svg>
<div class="a" style="left:1305px;top:819px;width:252px;height:107.5px;background:#fff;border-radius:14px;box-shadow:0 8px 24px rgba(100,100,180,0.10),0 1px 3px rgba(100,100,180,0.03)"></div>
<div class="t" style="left:1329.3px;top:843.8px;font-size:19.5px;color:#111;font-weight:400;">RT</div>
<div class="t" style="left:1330.0px;top:873.3px;font-size:22.6px;color:#1c2b58;font-weight:400;letter-spacing:1.5px;-webkit-text-stroke:0.6px #1c2b58;">-2</div>
<div class="a" style="left:1580.6px;top:819px;width:252px;height:107.5px;background:#fff;border-radius:14px;box-shadow:0 8px 24px rgba(100,100,180,0.10),0 1px 3px rgba(100,100,180,0.03)"></div>
<div class="t" style="left:1604.9px;top:843.8px;font-size:19.5px;color:#111;font-weight:400;">PT</div>
<div class="t" style="left:1605.6px;top:873.3px;font-size:22.6px;color:#1c2b58;font-weight:400;letter-spacing:1.5px;-webkit-text-stroke:0.6px #1c2b58;">-2.5%</div>
<div class="a" style="left:1305px;top:951px;width:252px;height:107.5px;background:#fff;border-radius:14px;box-shadow:0 8px 24px rgba(100,100,180,0.10),0 1px 3px rgba(100,100,180,0.03)"></div>
<div class="t" style="left:1329.3px;top:975.8px;font-size:19.5px;color:#111;font-weight:400;">MT</div>
<div class="t" style="left:1330.0px;top:1005.3px;font-size:22.6px;color:#1c2b58;font-weight:400;letter-spacing:1.5px;-webkit-text-stroke:0.6px #1c2b58;">+32.8%</div>
<div class="a" style="left:1580.6px;top:951px;width:252px;height:107.5px;background:#fff;border-radius:14px;box-shadow:0 8px 24px rgba(100,100,180,0.10),0 1px 3px rgba(100,100,180,0.03)"></div>
<div class="t" style="left:1604.9px;top:975.8px;font-size:19.5px;color:#111;font-weight:400;">UT</div>
<div class="t" style="left:1605.6px;top:1005.3px;font-size:22.6px;color:#1c2b58;font-weight:400;letter-spacing:1.5px;-webkit-text-stroke:0.6px #1c2b58;">+60%</div>
<svg style="left:1450px;top:850px" width="100" height="50" viewBox="0 0 100 50" fill="none"><path d="M7.7,31.7 C15,31.7 22,19.7 29.3,19.7 C37,19.7 45,37.7 52.2,37.7 C60,37.7 66,18 72.9,12.9 C76,10.5 79,9.5 82.7,9" stroke="rgba(120,130,230,0.35)" stroke-width="5" stroke-linecap="round" transform="translate(0,4)" style="filter:blur(2.5px)"/><path d="M7.7,31.7 C15,31.7 22,19.7 29.3,19.7 C37,19.7 45,37.7 52.2,37.7 C60,37.7 66,18 72.9,12.9 C76,10.5 79,9.5 82.7,9" stroke="#ff8a00" stroke-width="2.6" stroke-linecap="round"/><circle cx="72.9" cy="12.9" r="4.9" fill="#ff8a00"/></svg>
<svg style="left:1450px;top:982px" width="100" height="50" viewBox="0 0 100 50" fill="none"><path d="M7.7,31.7 C15,31.7 22,19.7 29.3,19.7 C37,19.7 45,37.7 52.2,37.7 C60,37.7 66,18 72.9,12.9 C76,10.5 79,9.5 82.7,9" stroke="rgba(120,200,140,0.35)" stroke-width="5" stroke-linecap="round" transform="translate(0,4)" style="filter:blur(2.5px)"/><path d="M7.7,31.7 C15,31.7 22,19.7 29.3,19.7 C37,19.7 45,37.7 52.2,37.7 C60,37.7 66,18 72.9,12.9 C76,10.5 79,9.5 82.7,9" stroke="#20a04c" stroke-width="2.6" stroke-linecap="round"/><circle cx="72.1" cy="12.2" r="4.9" fill="#20a04c"/></svg>
<svg style="left:1715px;top:840px" width="100" height="50" viewBox="0 0 100 50" fill="none"><path d="M10,48 C18,45 24,38 28.3,31.6 C34,23 41,18.8 49,18.8 C58,18.8 66,28 73,36 C76,39 79,41.7 81.7,41.7 C85,42.5 89,44 93.5,44.2" stroke="rgba(255,120,120,0.35)" stroke-width="5" stroke-linecap="round" transform="translate(0,4)" style="filter:blur(2.5px)"/><path d="M10,48 C18,45 24,38 28.3,31.6 C34,23 41,18.8 49,18.8 C58,18.8 66,28 73,36 C76,39 79,41.7 81.7,41.7 C85,42.5 89,44 93.5,44.2" stroke="#ff3a2e" stroke-width="2.6" stroke-linecap="round"/><circle cx="81.7" cy="41.7" r="4.9" fill="#ff3a2e"/></svg>
<svg style="left:1715px;top:975px" width="100" height="50" viewBox="0 0 100 50" fill="none"><path d="M7,42 C10,36 14,29 21.2,29.2 C30,29.4 45,39 52,42.5 C60,46.5 70,46 75,33 C77,27 78,22 79.8,19.9 C83,18.5 88,18.8 93.2,21" stroke="rgba(255,190,120,0.35)" stroke-width="5" stroke-linecap="round" transform="translate(0,4)" style="filter:blur(2.5px)"/><path d="M7,42 C10,36 14,29 21.2,29.2 C30,29.4 45,39 52,42.5 C60,46.5 70,46 75,33 C77,27 78,22 79.8,19.9 C83,18.5 88,18.8 93.2,21" stroke="#ffa000" stroke-width="2.6" stroke-linecap="round"/><circle cx="79.8" cy="19.9" r="4.9" fill="#ffa000"/></svg>
<div class="a" style="left:1941px;top:68px;width:6px;height:1010px;background:#808080;border-radius:0 0 3px 3px"></div>
</body></html>
